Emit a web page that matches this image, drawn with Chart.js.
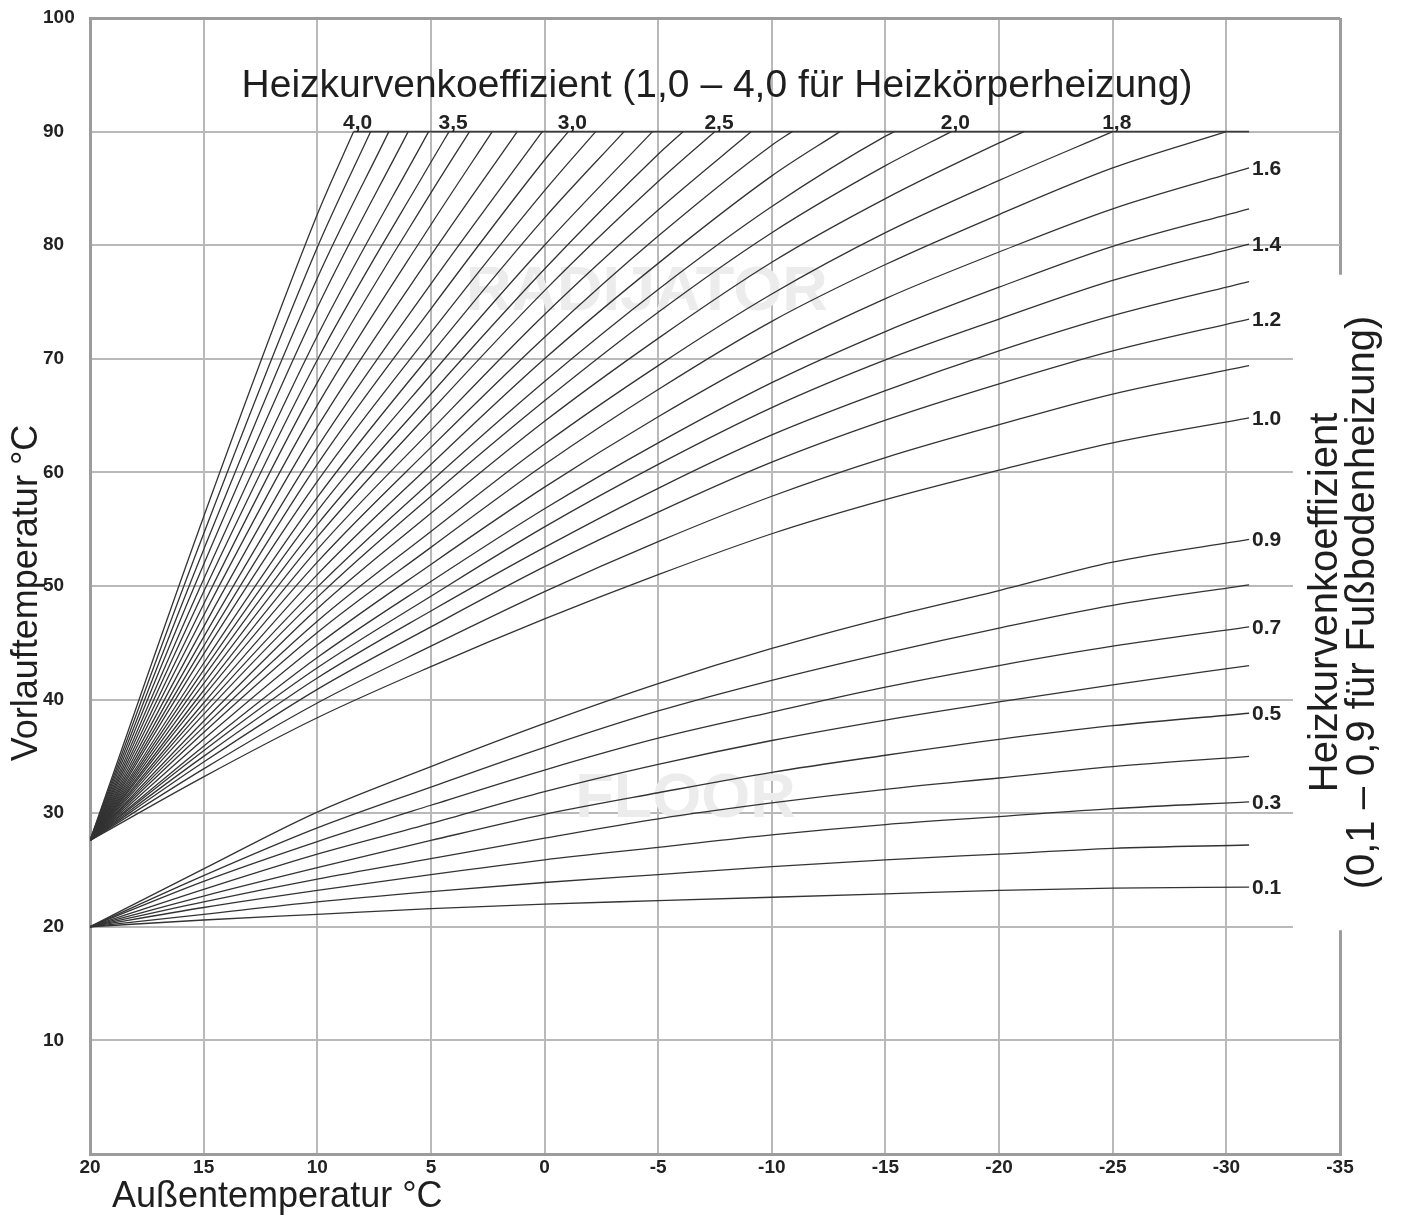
<!DOCTYPE html>
<html lang="de">
<head>
<meta charset="UTF-8">
<title>Heizkurven</title>
<style>
  * { margin: 0; padding: 0; box-sizing: border-box; }
  body { background: #fff; width: 1402px; height: 1218px; overflow: hidden; }
  #wrap { position: relative; width: 1402px; height: 1218px; }
</style>
<script src="https://cdn.jsdelivr.net/npm/chart.js@4"></script>
</head>
<body>
<div id="wrap"><canvas id="curveChart" width="1402" height="1218"></canvas></div>
<script>
// outside temperature columns the curves were read at
const outsideTemp = [20, 15, 10, 5, 0, -5, -10, -15, -20, -25, -31];
const maxFlow = 90;

// radiator curves (1.0 - 4.0), steep ones stop where they hit the 90 °C line
const radiatorCoef = [4.0, 3.9, 3.8, 3.7, 3.6, 3.5, 3.4, 3.3, 3.2, 3.1, 3.0, 2.9, 2.8, 2.7, 2.6, 2.5,
  2.4, 2.3, 2.2, 2.1, 2.0, 1.9, 1.8, 1.7, 1.6, 1.5, 1.4, 1.3, 1.2, 1.1, 1.0];
const radiatorCapAt = [8.4, 7.65, 6.85, 6.0, 5.1, 4.2, 3.3, 2.3, 1.2, 0.1, -1.05, -2.25, -3.5, -4.75, -6.1, -7.5,
  -9.1, -10.9, -13.0, -15.4, -17.9, -21.1, -25.0, -30.0, null, null, null, null, null, null, null];
const radiatorFlow = [
  [27.6, 56.1, 82.7],
  [27.6, 54.6, 79.8],
  [27.6, 53.2, 77.1],
  [27.6, 51.9, 74.5],
  [27.6, 50.6, 72.0],
  [27.6, 49.5, 69.9, 87.3],
  [27.6, 48.4, 67.9, 84.6],
  [27.6, 47.4, 65.9, 81.8],
  [27.6, 46.4, 64.0, 79.1],
  [27.6, 45.5, 62.2, 76.6],
  [27.6, 44.7, 60.7, 74.4, 87.5],
  [27.6, 44.0, 59.2, 72.3, 84.8],
  [27.6, 43.2, 57.8, 70.4, 82.4],
  [27.6, 42.6, 56.6, 68.6, 80.0],
  [27.6, 42.0, 55.4, 66.9, 77.9, 88.0],
  [27.6, 41.4, 54.3, 65.4, 76.0, 85.6],
  [27.6, 40.8, 53.2, 63.7, 73.9, 83.1],
  [27.6, 40.3, 52.1, 62.2, 71.9, 80.8, 88.8],
  [27.6, 39.7, 51.0, 60.7, 70.0, 78.4, 86.1],
  [27.6, 39.2, 49.9, 59.2, 68.0, 76.1, 83.4, 89.6],
  [27.6, 38.7, 49.0, 57.9, 66.3, 74.1, 81.1, 87.0],
  [27.6, 38.1, 48.0, 56.4, 64.5, 71.8, 78.5, 84.1, 89.0],
  [27.6, 37.6, 46.9, 54.8, 62.5, 69.4, 75.7, 81.1, 85.7],
  [27.6, 37.1, 45.9, 53.4, 60.7, 67.3, 73.3, 78.3, 82.7, 86.8],
  [27.6, 36.5, 44.8, 51.9, 58.7, 64.9, 70.5, 75.3, 79.4, 83.2, 86.8],
  [27.6, 35.9, 43.7, 50.4, 56.8, 62.6, 67.9, 72.4, 76.3, 79.9, 83.2],
  [27.6, 35.5, 42.8, 49.1, 55.2, 60.7, 65.7, 69.9, 73.5, 76.9, 80.1],
  [27.6, 35.0, 41.9, 47.8, 53.4, 58.6, 63.3, 67.2, 70.7, 73.8, 76.8],
  [27.6, 34.5, 40.9, 46.4, 51.7, 56.5, 60.9, 64.6, 67.8, 70.7, 73.5],
  [27.6, 33.9, 39.7, 44.7, 49.5, 53.9, 57.9, 61.3, 64.2, 66.9, 69.4],
  [27.6, 33.2, 38.4, 42.9, 47.1, 51.0, 54.6, 57.6, 60.2, 62.6, 64.8]
];

// floor heating curves (0.1 - 0.9)
const floorCoef = [0.9, 0.8, 0.7, 0.6, 0.5, 0.4, 0.3, 0.2, 0.1];
const floorFlow = [
  [20, 25.1, 30.1, 34.1, 37.9, 41.4, 44.5, 47.2, 49.6, 52.1, 54.1],
  [20, 24.5, 28.7, 32.3, 35.8, 39.0, 41.7, 44.1, 46.3, 48.3, 50.1],
  [20, 24.0, 27.5, 30.7, 33.8, 36.6, 38.9, 41.1, 43.0, 44.7, 46.4],
  [20, 23.3, 26.4, 29.1, 31.9, 34.3, 36.4, 38.2, 39.8, 41.3, 43.0],
  [20, 22.7, 25.2, 27.6, 29.9, 31.8, 33.6, 35.1, 36.5, 37.7, 38.8],
  [20, 22.2, 24.2, 26.0, 27.8, 29.5, 30.9, 32.1, 33.1, 34.1, 35.0],
  [20, 21.7, 23.2, 24.6, 25.9, 27.0, 28.1, 29.0, 29.7, 30.4, 31.0],
  [20, 21.1, 22.2, 23.1, 23.9, 24.6, 25.3, 25.9, 26.4, 26.9, 27.2],
  [20, 20.6, 21.1, 21.6, 22.0, 22.3, 22.6, 22.9, 23.2, 23.4, 23.5]
];

// which curves carry a number
const topLabelCoef = [4.0, 3.5, 3.0, 2.5, 2.0, 1.8];
const topLabelText = ['4,0', '3,5', '3,0', '2,5', '2,0', '1,8'];
const sideLabelCoef = [1.6, 1.4, 1.2, 1.0, 0.9, 0.7, 0.5, 0.3, 0.1];
const sideLabelText = ['1.6', '1.4', '1.2', '1.0', '0.9', '0.7', '0.5', '0.3', '0.1'];

const FONT = '"Liberation Sans", Arial, Helvetica, sans-serif';
const CURVE = '#333';

function curvePoints(flow, capAt) {
  const pts = flow.map((y, i) => ({ x: outsideTemp[i], y: y }));
  if (capAt !== null && capAt !== undefined) pts.push({ x: capAt, y: maxFlow });
  return pts;
}

const datasets = [];
radiatorCoef.forEach((c, i) => {
  datasets.push({ label: 'R' + c, coef: c, group: 'radiator', data: curvePoints(radiatorFlow[i], radiatorCapAt[i]) });
});
floorCoef.forEach((c, i) => {
  datasets.push({ label: 'F' + c, coef: c, group: 'floor', data: curvePoints(floorFlow[i], null) });
});
// 90 °C limit line
datasets.push({
  label: 'limit', group: 'limit',
  data: [{ x: radiatorCapAt[0], y: maxFlow }, { x: outsideTemp[outsideTemp.length - 1], y: maxFlow }],
  borderColor: '#3c3c3c', borderWidth: 1.8
});

function lastPoint(chart, group, coef) {
  const idx = chart.data.datasets.findIndex(d => d.group === group && Math.abs(d.coef - coef) < 1e-6);
  const meta = chart.getDatasetMeta(idx);
  return meta.data[meta.data.length - 1];
}

const annotations = {
  id: 'annotations',
  beforeDatasetsDraw(chart) {
    const { ctx, scales: { x, y } } = chart;
    ctx.save();
    ctx.fillStyle = '#ececec';
    ctx.font = 'bold 63px ' + FONT;
    ctx.textAlign = 'center';
    ctx.textBaseline = 'middle';
    ctx.fillText('RADIJATOR', x.getPixelForValue(-4.5), y.getPixelForValue(75.8));
    ctx.fillText('FLOOR', x.getPixelForValue(-6.2), y.getPixelForValue(31.2));
    ctx.restore();
  },
  afterDraw(chart) {
    const { ctx, scales: { x, y } } = chart;
    ctx.save();

    // curve numbers on the 90 line
    ctx.fillStyle = '#222';
    ctx.font = 'bold 21px ' + FONT;
    ctx.textAlign = 'center';
    ctx.textBaseline = 'alphabetic';
    topLabelCoef.forEach((c, i) => {
      const p = lastPoint(chart, 'radiator', c);
      ctx.fillText(topLabelText[i], p.x + 4, p.y - 3);
    });

    // curve numbers at the right ends
    ctx.textAlign = 'left';
    ctx.textBaseline = 'middle';
    sideLabelCoef.forEach((c, i) => {
      const group = c >= 1 ? 'radiator' : 'floor';
      const p = lastPoint(chart, group, c);
      ctx.fillText(sideLabelText[i], p.x + 3, p.y + 1);
    });

    // white panel for the floor heating note
    const boxL = x.getPixelForValue(-32.93);
    const boxT = y.getPixelForValue(77.4);
    const boxB = y.getPixelForValue(19.7);
    ctx.fillStyle = '#fff';
    ctx.fillRect(boxL, boxT, chart.width - boxL, boxB - boxT);

    ctx.fillStyle = '#1e1e1e';
    ctx.font = '40px ' + FONT;
    ctx.textAlign = 'center';
    ctx.textBaseline = 'alphabetic';
    const midY = (boxT + boxB) / 2;
    [['Heizkurvenkoeffizient', boxL + 44], ['(0,1 – 0,9 für Fußbodenheizung)', boxL + 81]].forEach(([t, bx]) => {
      ctx.save();
      ctx.translate(bx, midY);
      ctx.rotate(-Math.PI / 2);
      ctx.fillText(t, 0, 0);
      ctx.restore();
    });

    // heading over the radiator fan
    ctx.font = '39px ' + FONT;
    ctx.fillText('Heizkurvenkoeffizient (1,0 – 4,0 für Heizkörperheizung)', 717, 97);

    // axis titles
    ctx.font = '36px ' + FONT;
    ctx.textAlign = 'left';
    ctx.fillText('Außentemperatur °C', 112, 1207);
    ctx.save();
    ctx.translate(37, 593);
    ctx.rotate(-Math.PI / 2);
    ctx.textAlign = 'center';
    ctx.fillText('Vorlauftemperatur °C', 0, 0);
    ctx.restore();

    ctx.restore();
  }
};

const edge = (v, a, b) => (v === a || v === b);

new Chart(document.getElementById('curveChart'), {
  type: 'line',
  data: { datasets: datasets },
  options: {
    responsive: false,
    animation: false,
    devicePixelRatio: 1,
    layout: { padding: { left: 43, right: 62, top: 18, bottom: 0 } },
    elements: {
      point: { radius: 0 },
      line: { borderColor: CURVE, borderWidth: 1.3, cubicInterpolationMode: 'monotone', fill: false }
    },
    plugins: { legend: { display: false }, tooltip: { enabled: false } },
    scales: {
      x: {
        type: 'linear', reverse: true, min: -35, max: 20,
        afterFit: s => { s.height = 64; },
        grid: {
          drawTicks: false,
          color: c => edge(c.tick && c.tick.value, 20, -35) ? '#9c9c9c' : '#b9b9b9',
          lineWidth: c => edge(c.tick && c.tick.value, 20, -35) ? 3 : 2
        },
        border: { display: true, color: '#9c9c9c', width: 3 },
        ticks: {
          stepSize: 5, padding: 2, color: '#222',
          font: { family: FONT, size: 19, weight: 'bold' }
        }
      },
      y: {
        min: 0, max: 100,
        afterFit: s => { s.width = 47; },
        grid: {
          drawTicks: false,
          color: c => edge(c.tick && c.tick.value, 0, 100) ? '#9c9c9c' : '#b9b9b9',
          lineWidth: c => edge(c.tick && c.tick.value, 0, 100) ? 3 : 2
        },
        border: { display: true, color: '#9c9c9c', width: 3 },
        ticks: {
          stepSize: 10, crossAlign: 'far', color: '#222',
          font: { family: FONT, size: 19, weight: 'bold' },
          callback: v => v === 0 ? '' : v
        }
      }
    }
  },
  plugins: [annotations]
});
</script>
</body>
</html>
